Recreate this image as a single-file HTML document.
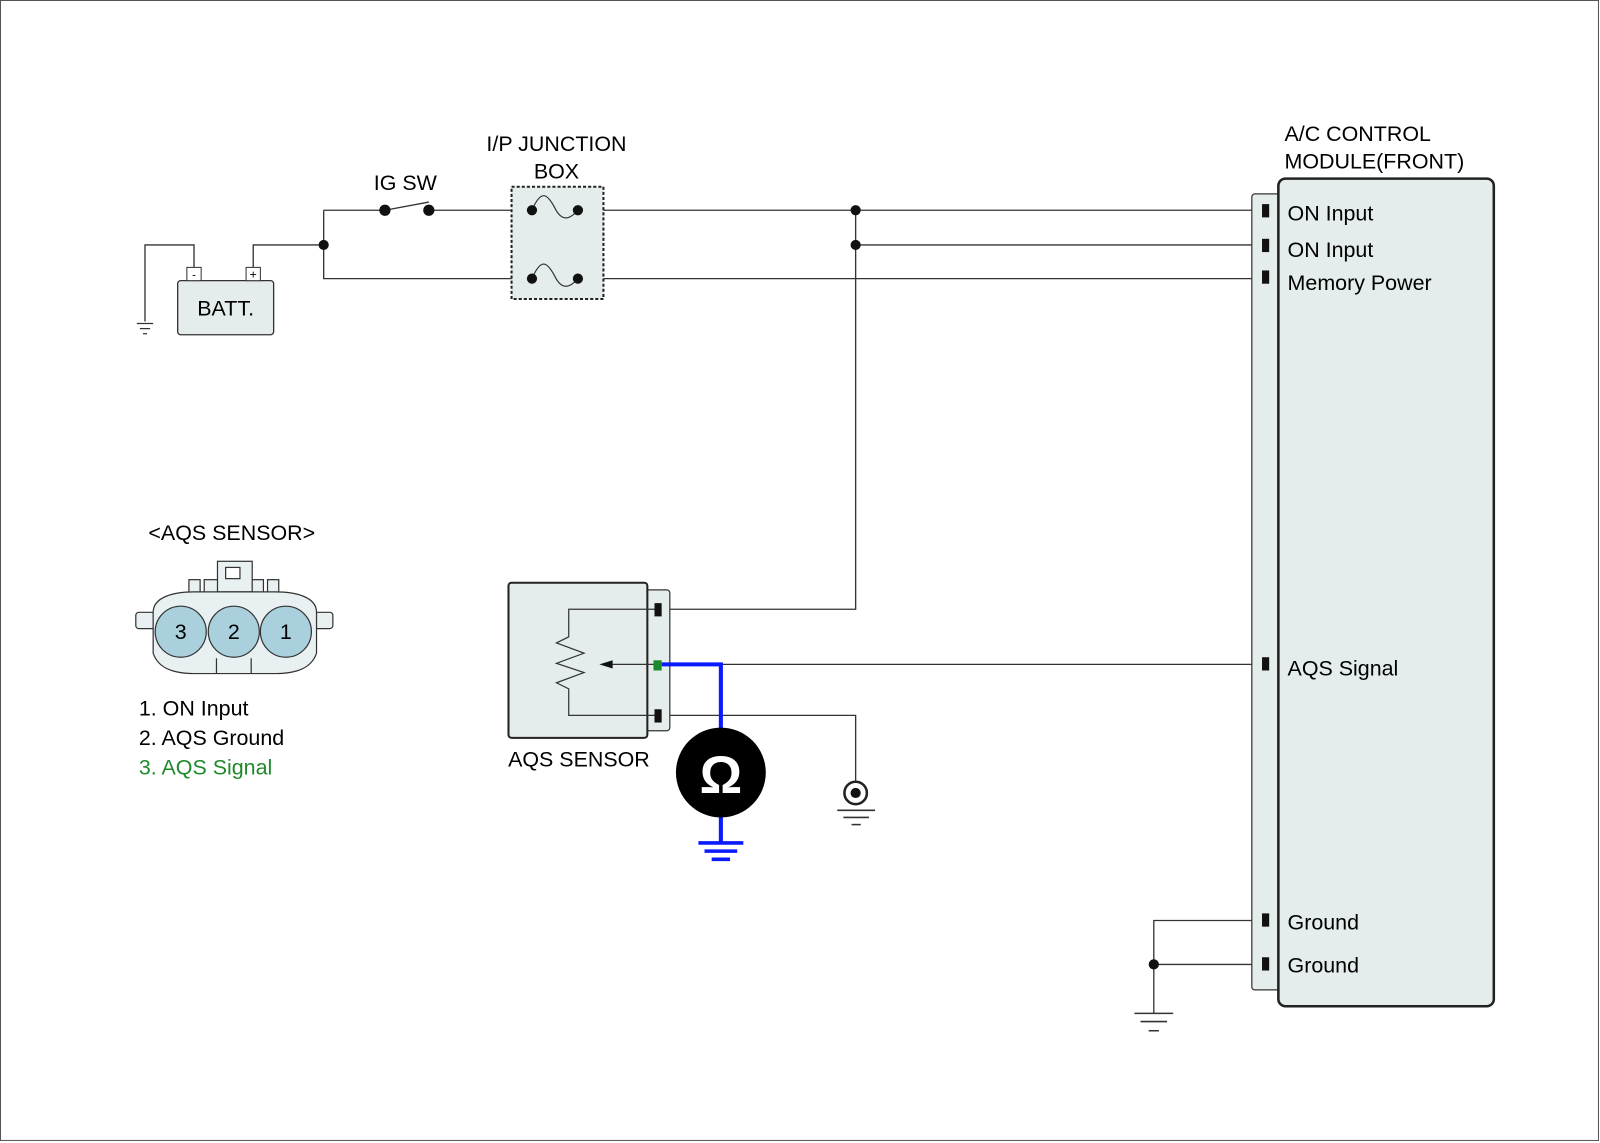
<!DOCTYPE html>
<html><head><meta charset="utf-8"><style>html,body{margin:0;padding:0;background:#fff}svg{display:block}text{font-family:"Liberation Sans",sans-serif}</style></head><body>
<svg width="1600" height="1143" viewBox="0 0 1567 1120" preserveAspectRatio="none" xmlns="http://www.w3.org/2000/svg">
<rect x="0.5" y="0.5" width="1565" height="1117" fill="#fff" stroke="#555" stroke-width="1"/>
<g fill="none" stroke="#333" stroke-width="1.3">
<polyline points="190,262 190,240 142,240 142,315"/>
<polyline points="248,262 248,240 317,240"/>
<polyline points="317,206 317,273 521,273"/>
<polyline points="317,206 377,206"/>
<line x1="377" y1="206" x2="420" y2="198"/>
<line x1="420" y1="206" x2="521" y2="206"/>
<line x1="566" y1="206" x2="1240" y2="206"/>
<line x1="566" y1="273" x2="1240" y2="273"/>
<line x1="838" y1="240" x2="1240" y2="240"/>
<polyline points="838,206 838,597 645,597"/>
<line x1="706" y1="651" x2="1240" y2="651"/>
<polyline points="645,701 838,701 838,766"/>
<polyline points="1240,902 1130,902 1130,993"/>
<line x1="1130" y1="945" x2="1240" y2="945"/>
</g>
<g stroke="#333" stroke-width="1.2"><line x1="134" y1="317" x2="150" y2="317"/><line x1="137" y1="322" x2="147" y2="322"/><line x1="140" y1="327" x2="144" y2="327"/></g>
<rect x="174" y="275" width="94" height="53" rx="3" fill="#e4ecec" stroke="#333" stroke-width="1.3"/>
<rect x="183" y="262" width="14" height="13" fill="#fff" stroke="#333"/>
<rect x="241" y="262" width="14" height="13" fill="#fff" stroke="#333"/>
<text x="190" y="273" font-size="11" text-anchor="middle">-</text>
<text x="248" y="273" font-size="12" text-anchor="middle">+</text>
<text x="221" y="309" font-size="21" text-anchor="middle">BATT.</text>
<rect x="501" y="183" width="90" height="110" fill="#e4ecec" stroke="#222" stroke-width="2" stroke-dasharray="3,2"/>
<path d="M521,206 C530,185 536,190 543,203 C550,218 558,215 566,206" fill="none" stroke="#333" stroke-width="1.2"/>
<path d="M521,273 C530,252 536,257 543,270 C550,285 558,282 566,273" fill="none" stroke="#333" stroke-width="1.2"/>
<g fill="#111">
<circle cx="521" cy="206" r="5"/><circle cx="566" cy="206" r="5"/><circle cx="521" cy="273" r="5"/><circle cx="566" cy="273" r="5"/>
<circle cx="377" cy="206" r="5.5"/><circle cx="420" cy="206" r="5.5"/>
<circle cx="317" cy="240" r="5"/><circle cx="838" cy="206" r="5"/><circle cx="838" cy="240" r="5"/><circle cx="1130" cy="945" r="5"/>
</g>
<text x="545" y="148" font-size="21" text-anchor="middle">I/P JUNCTION</text>
<text x="545" y="175" font-size="21" text-anchor="middle">BOX</text>
<text x="397" y="186" font-size="21" text-anchor="middle">IG SW</text>
<rect x="1226" y="190" width="30" height="780" rx="3" fill="#e4ecec" stroke="#333" stroke-width="1.2"/>
<rect x="1252" y="175" width="211" height="811" rx="7" fill="#e4ecec" stroke="#222" stroke-width="2.5"/>
<g fill="#111"><rect x="1236" y="200" width="7" height="13"/><rect x="1236" y="234" width="7" height="13"/><rect x="1236" y="265" width="7" height="13"/><rect x="1236" y="644" width="7" height="13"/><rect x="1236" y="895" width="7" height="13"/><rect x="1236" y="938" width="7" height="13"/></g>
<g font-size="21"><text x="1261" y="216">ON Input</text><text x="1261" y="252">ON Input</text><text x="1261" y="284">Memory Power</text><text x="1261" y="662">AQS Signal</text><text x="1261" y="911">Ground</text><text x="1261" y="953">Ground</text>
<text x="1258" y="138">A/C CONTROL</text><text x="1258" y="165">MODULE(FRONT)</text></g>
<g stroke="#333" stroke-width="1.5"><line x1="1111" y1="993" x2="1149" y2="993"/><line x1="1117" y1="1001" x2="1143" y2="1001"/><line x1="1125" y1="1010" x2="1135" y2="1010"/></g>
<rect x="632" y="578" width="24" height="138" rx="3" fill="#e4ecec" stroke="#333" stroke-width="1.2"/>
<rect x="498" y="571" width="136" height="152" rx="3" fill="#e4ecec" stroke="#222" stroke-width="2"/>
<polyline points="642,610 557,610 557,637 545,643 572,653 545,663 572,672 545,682 557,688 557,714 642,714" fill="none" stroke="#333" stroke-width="1.2" transform="translate(0,-13)"/>
<line x1="640" y1="651" x2="596" y2="651" stroke="#333" stroke-width="1.2"/>
<polygon points="587,651 600,647 600,655" fill="#111"/>
<rect x="641" y="591" width="7" height="13" fill="#111"/>
<rect x="641" y="695" width="7" height="13" fill="#111"/>
<polyline points="648,651 706,651 706,720" fill="none" stroke="#0a1aff" stroke-width="4"/>
<line x1="706" y1="795" x2="706" y2="826" stroke="#0a1aff" stroke-width="4"/>
<g stroke="#0a1aff" stroke-width="3.5"><line x1="684" y1="826" x2="728" y2="826"/><line x1="690" y1="834" x2="722" y2="834"/><line x1="697" y1="842" x2="715" y2="842"/></g>
<rect x="640" y="647" width="8" height="10" fill="#1a8a2a"/>
<circle cx="706" cy="757" r="44" fill="#000"/>
<text x="706" y="777" font-size="52" font-weight="bold" fill="#fff" text-anchor="middle">Ω</text>
<text x="567" y="751" font-size="21" text-anchor="middle">AQS SENSOR</text>
<circle cx="838" cy="777" r="11" fill="#fff" stroke="#222" stroke-width="2.5"/><circle cx="838" cy="777" r="5" fill="#111"/>
<g stroke="#333" stroke-width="1.5"><line x1="820" y1="794" x2="857" y2="794"/><line x1="826" y1="801" x2="851" y2="801"/><line x1="834" y1="808" x2="843" y2="808"/></g>
<text x="227" y="529" font-size="21" text-anchor="middle">&lt;AQS SENSOR&gt;</text>
<g stroke="#333" stroke-width="1.2" fill="#e8f0f2">
<rect x="185" y="568" width="11" height="24"/><rect x="262" y="568" width="11" height="24"/>
<rect x="200" y="568" width="58" height="26"/>
<rect x="213" y="550" width="34" height="30"/>
<rect x="221" y="556" width="14" height="11" fill="#fff"/>
<rect x="133" y="600" width="193" height="16" rx="3"/>
<path d="M150,600 C150,585 170,580 190,580 L270,580 C290,580 310,585 310,600 L310,640 C305,655 290,660 270,660 L190,660 C170,660 155,655 150,640 Z"/>
<line x1="212" y1="645" x2="212" y2="660"/><line x1="246" y1="645" x2="246" y2="660"/>
</g>
<g stroke="#333" stroke-width="1.2" fill="#a9d0dc"><circle cx="177" cy="619" r="25"/><circle cx="229" cy="619" r="25"/><circle cx="280" cy="619" r="25"/></g>
<g font-size="21" text-anchor="middle"><text x="177" y="626">3</text><text x="229" y="626">2</text><text x="280" y="626">1</text></g>
<g font-size="21"><text x="136" y="701">1. ON Input</text><text x="136" y="730">2. AQS Ground</text><text x="136" y="759" fill="#1f8a2a">3. AQS Signal</text></g>
</svg>
</body></html>
